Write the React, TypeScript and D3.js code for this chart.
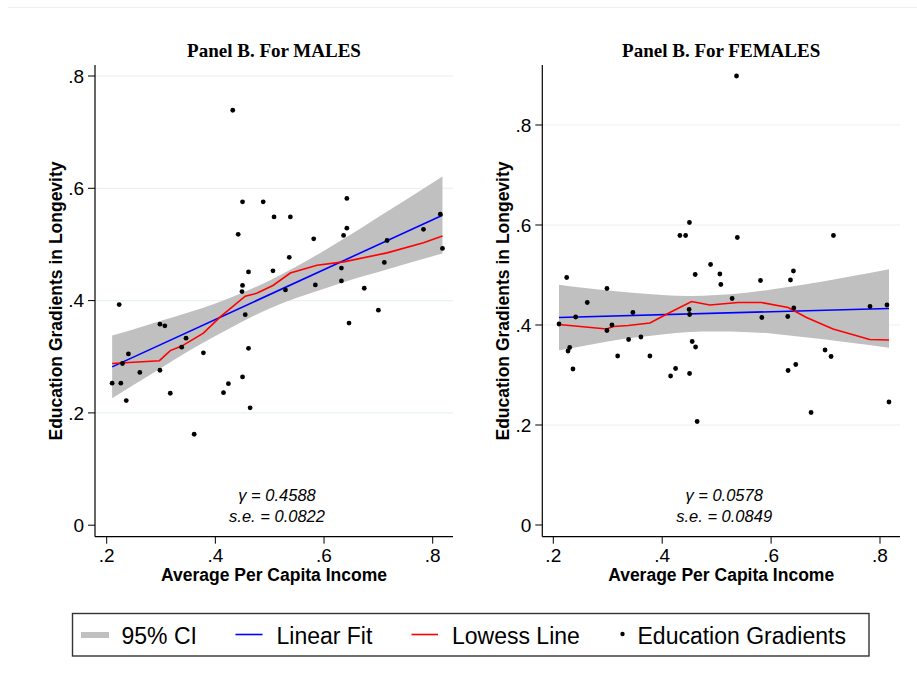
import React from "react";
import * as d3 from "d3";

// ---- data ----
const maleX = [0.432, 0.45, 0.488, 0.508, 0.538, 0.642, 0.442, 0.581, 0.636, 0.642, 0.783, 0.814, 0.716, 0.818, 0.536,
  0.461, 0.506, 0.632, 0.711, 0.45, 0.449, 0.529, 0.584, 0.632, 0.674, 0.223, 0.455, 0.7, 0.646, 0.298, 0.307,
  0.346, 0.338, 0.378, 0.461, 0.24, 0.229, 0.261, 0.298, 0.21, 0.226, 0.236, 0.317, 0.415, 0.424, 0.45, 0.464, 0.361];
const maleY = [0.739, 0.576, 0.576, 0.549, 0.549, 0.582, 0.518, 0.51, 0.516, 0.529, 0.527, 0.554, 0.507, 0.493, 0.477,
  0.451, 0.453, 0.458, 0.468, 0.427, 0.416, 0.419, 0.428, 0.435, 0.422, 0.393, 0.375, 0.383, 0.36, 0.358, 0.355,
  0.333, 0.317, 0.307, 0.315, 0.305, 0.288, 0.272, 0.276, 0.253, 0.253, 0.222, 0.235, 0.236, 0.252, 0.264, 0.209, 0.162];

const femaleX = [0.5365, 0.45, 0.4325, 0.443, 0.538, 0.7145, 0.4888, 0.2246, 0.4606, 0.5059, 0.5077, 0.641, 0.5805,
  0.6356, 0.2985, 0.2624, 0.5284, 0.2411, 0.3462, 0.4495, 0.4503, 0.583, 0.6417, 0.6306, 0.7817, 0.8128, 0.2105,
  0.3077, 0.2985, 0.3383, 0.3609, 0.2301, 0.227, 0.3182, 0.3774, 0.4551, 0.4613, 0.6991, 0.7101, 0.2361, 0.4246,
  0.4154, 0.4503, 0.6312, 0.6453, 0.6734, 0.8165, 0.4642];
const femaleY = [0.898, 0.605, 0.579, 0.579, 0.575, 0.579, 0.521, 0.495, 0.501, 0.502, 0.481, 0.508, 0.489,
  0.49, 0.473, 0.445, 0.453, 0.416, 0.425, 0.431, 0.421, 0.415, 0.434, 0.417, 0.437, 0.44, 0.402,
  0.4, 0.389, 0.371, 0.376, 0.355, 0.348, 0.338, 0.338, 0.367, 0.356, 0.35, 0.337, 0.312, 0.313,
  0.298, 0.303, 0.309, 0.321, 0.225, 0.246, 0.207];

// linear fit end points
const maleFitX = [0.21, 0.818];
const maleFitY = [0.282, 0.552];
const femaleFitX = [0.2105, 0.8165];
const femaleFitY = [0.415, 0.433];

// 95% CI band
const maleCiX = [0.21, 0.25, 0.3, 0.35, 0.4, 0.45, 0.5, 0.55, 0.6, 0.65, 0.7, 0.75, 0.818];
const maleCiLo = [0.226, 0.25, 0.28, 0.31, 0.337, 0.363, 0.386, 0.405, 0.421, 0.437, 0.451, 0.465, 0.484];
const maleCiHi = [0.338, 0.349, 0.364, 0.379, 0.395, 0.414, 0.436, 0.461, 0.489, 0.518, 0.549, 0.579, 0.621];
const femaleCiX = [0.2105, 0.25, 0.3, 0.35, 0.4, 0.45, 0.5, 0.55, 0.6, 0.65, 0.7, 0.75, 0.8165];
const femaleCiLo = [0.3495, 0.357, 0.367, 0.375, 0.381, 0.386, 0.387, 0.386, 0.383, 0.377, 0.371, 0.364, 0.3545];
const femaleCiHi = [0.4805, 0.475, 0.469, 0.464, 0.46, 0.458, 0.46, 0.464, 0.471, 0.479, 0.488, 0.498, 0.5115];

// lowess
const maleLowX = [0.21, 0.297, 0.317, 0.338, 0.378, 0.409, 0.455, 0.476, 0.506, 0.538, 0.587, 0.636, 0.716, 0.783, 0.818];
const maleLowY = [0.288, 0.293, 0.311, 0.319, 0.342, 0.371, 0.408, 0.413, 0.427, 0.449, 0.463, 0.469, 0.485, 0.503, 0.515];
const femaleLowX = [0.2105, 0.298, 0.31, 0.3376, 0.3774, 0.4141, 0.4539, 0.4875, 0.5394, 0.5824, 0.6312, 0.665, 0.7138, 0.7811, 0.8165];
const femaleLowY = [0.401, 0.392, 0.397, 0.399, 0.404, 0.425, 0.447, 0.44, 0.445, 0.445, 0.435, 0.415, 0.392, 0.371, 0.37];

const xTicks = [0.2, 0.4, 0.6, 0.8];
const maleYTicks = [0, 0.2, 0.4, 0.6, 0.8];
const femaleYTicks = [0, 0.2, 0.4, 0.6, 0.8];

const legendItems = ["95% CI", "Linear Fit", "Lowess Line", "Education Gradients"];

const SANS = "'Liberation Sans', Arial, Helvetica, sans-serif";
const SERIF = "'Liberation Serif', 'Times New Roman', serif";

const fmt = (v: number) => (v === 0 ? "0" : d3.format(".1f")(v).replace(/^0/, ""));

type PanelProps = {
  title: string;
  xs: number[];
  ys: number[];
  fitX: number[];
  fitY: number[];
  ciX: number[];
  ciLo: number[];
  ciHi: number[];
  lowX: number[];
  lowY: number[];
  yTicks: number[];
  gamma: string;
  se: string;
  left: number; // x of the y axis
  xr: [number, number]; // pixel range for .2 -> .8
  yr: [number, number]; // pixel range for 0 -> .8
  right: number;
};

function Panel(p: PanelProps) {
  const x = d3.scaleLinear().domain([0.2, 0.8]).range(p.xr);
  const y = d3.scaleLinear().domain([0, 0.8]).range(p.yr);
  const top = 65;
  const bottom = 536.7;
  const cx = (p.left + p.right) / 2;

  const band = d3
    .area<number>()
    .x((_, i) => x(p.ciX[i]))
    .y0((_, i) => y(p.ciLo[i]))
    .y1((_, i) => y(p.ciHi[i]))
    .curve(d3.curveMonotoneX);
  const line = d3
    .line<number>()
    .x(d => x(d[0]))
    .y(d => y(d[1]));
  const fit = p.fitX.map((v, i) => [v, p.fitY[i]]);
  const low = p.lowX.map((v, i) => [v, p.lowY[i]]);

  return (
    <g>
      <text x={cx} y={57} textAnchor="middle" fontFamily={SERIF} fontWeight="bold" fontSize={19}>
        {p.title}
      </text>
      {p.yTicks.map(t => (
        <g key={t}>
          {t > 0 && <line x1={p.left} x2={p.right} y1={y(t)} y2={y(t)} stroke="#e9f1f4" strokeWidth={1.2} />}
          <line x1={p.left - 7} x2={p.left} y1={y(t)} y2={y(t)} stroke="#000" strokeWidth={1} />
          <text x={p.left - 11} y={y(t)} dy="0.35em" textAnchor="end" fontFamily={SANS} fontSize={19}>
            {fmt(t)}
          </text>
        </g>
      ))}
      <path d={band(p.ciX) || ""} fill="#c0c0c0" />
      <path d={line(fit as any) || ""} fill="none" stroke="#0000ff" strokeWidth={1.6} />
      <path d={line(low as any) || ""} fill="none" stroke="#ff0000" strokeWidth={1.6} />
      {p.xs.map((v, i) => (
        <circle key={i} cx={x(v)} cy={y(p.ys[i])} r={2.4} fill="#000" />
      ))}
      <line x1={p.left} x2={p.left} y1={top} y2={bottom} stroke="#000" strokeWidth={1.2} />
      <line x1={p.left} x2={p.right} y1={bottom} y2={bottom} stroke="#000" strokeWidth={1.2} />
      {xTicks.map(t => (
        <g key={t}>
          <line x1={x(t)} x2={x(t)} y1={bottom} y2={bottom + 7} stroke="#000" strokeWidth={1} />
          <text x={x(t)} y={561.5} textAnchor="middle" fontFamily={SANS} fontSize={19}>
            {fmt(t)}
          </text>
        </g>
      ))}
      <text x={cx} y={580.5} textAnchor="middle" fontFamily={SANS} fontWeight="bold" fontSize={17.5}>
        Average Per Capita Income
      </text>
      <text
        transform={`translate(${p.left - 33},301) rotate(-90)`}
        textAnchor="middle"
        fontFamily={SANS}
        fontWeight="bold"
        fontSize={17.5}
      >
        Education Gradients in Longevity
      </text>
      <text x={cx + 3} y={501} textAnchor="middle" fontFamily={SANS} fontStyle="italic" fontSize={16.5}>
        {"γ = " + p.gamma}
      </text>
      <text x={cx + 3} y={521.5} textAnchor="middle" fontFamily={SANS} fontStyle="italic" fontSize={16.5}>
        {"s.e. = " + p.se}
      </text>
    </g>
  );
}

export default function App() {
  return (
    <svg width={917} height={673} style={{ position: "absolute", left: 0, top: 0, background: "#fff" }}>
      <rect width={917} height={673} fill="#fff" />
      <line x1={8} x2={917} y1={7.5} y2={7.5} stroke="#f0f0f0" strokeWidth={1} />
      <Panel
        title="Panel B. For MALES"
        xs={maleX}
        ys={maleY}
        fitX={maleFitX}
        fitY={maleFitY}
        ciX={maleCiX}
        ciLo={maleCiLo}
        ciHi={maleCiHi}
        lowX={maleLowX}
        lowY={maleLowY}
        yTicks={maleYTicks}
        gamma="0.4588"
        se="0.0822"
        left={95}
        right={453}
        xr={[106.7, 432.7]}
        yr={[525.2, 76]}
      />
      <Panel
        title="Panel B. For FEMALES"
        xs={femaleX}
        ys={femaleY}
        fitX={femaleFitX}
        fitY={femaleFitY}
        ciX={femaleCiX}
        ciLo={femaleCiLo}
        ciHi={femaleCiHi}
        lowX={femaleLowX}
        lowY={femaleLowY}
        yTicks={femaleYTicks}
        gamma="0.0578"
        se="0.0849"
        left={542.3}
        right={900}
        xr={[553.3, 880]}
        yr={[525, 125]}
      />
      {/* legend */}
      <g>
        <rect x={72.5} y={613.5} width={796.5} height={42.5} fill="#fff" stroke="#333" strokeWidth={1.4} />
        <rect x={81} y={632} width={28} height={6} fill="#c0c0c0" />
        <text x={121.5} y={643.5} fontFamily={SANS} fontSize={23}>{legendItems[0]}</text>
        <line x1={235.5} x2={262.5} y1={634.5} y2={634.5} stroke="#0000ff" strokeWidth={1.6} />
        <text x={276.5} y={643.5} fontFamily={SANS} fontSize={23}>{legendItems[1]}</text>
        <line x1={411.5} x2={438} y1={634.5} y2={634.5} stroke="#ff0000" strokeWidth={1.6} />
        <text x={452} y={643.5} fontFamily={SANS} fontSize={23}>{legendItems[2]}</text>
        <circle cx={622.5} cy={634} r={2.2} fill="#000" />
        <text x={637.5} y={643.5} fontFamily={SANS} fontSize={23}>{legendItems[3]}</text>
      </g>
    </svg>
  );
}
